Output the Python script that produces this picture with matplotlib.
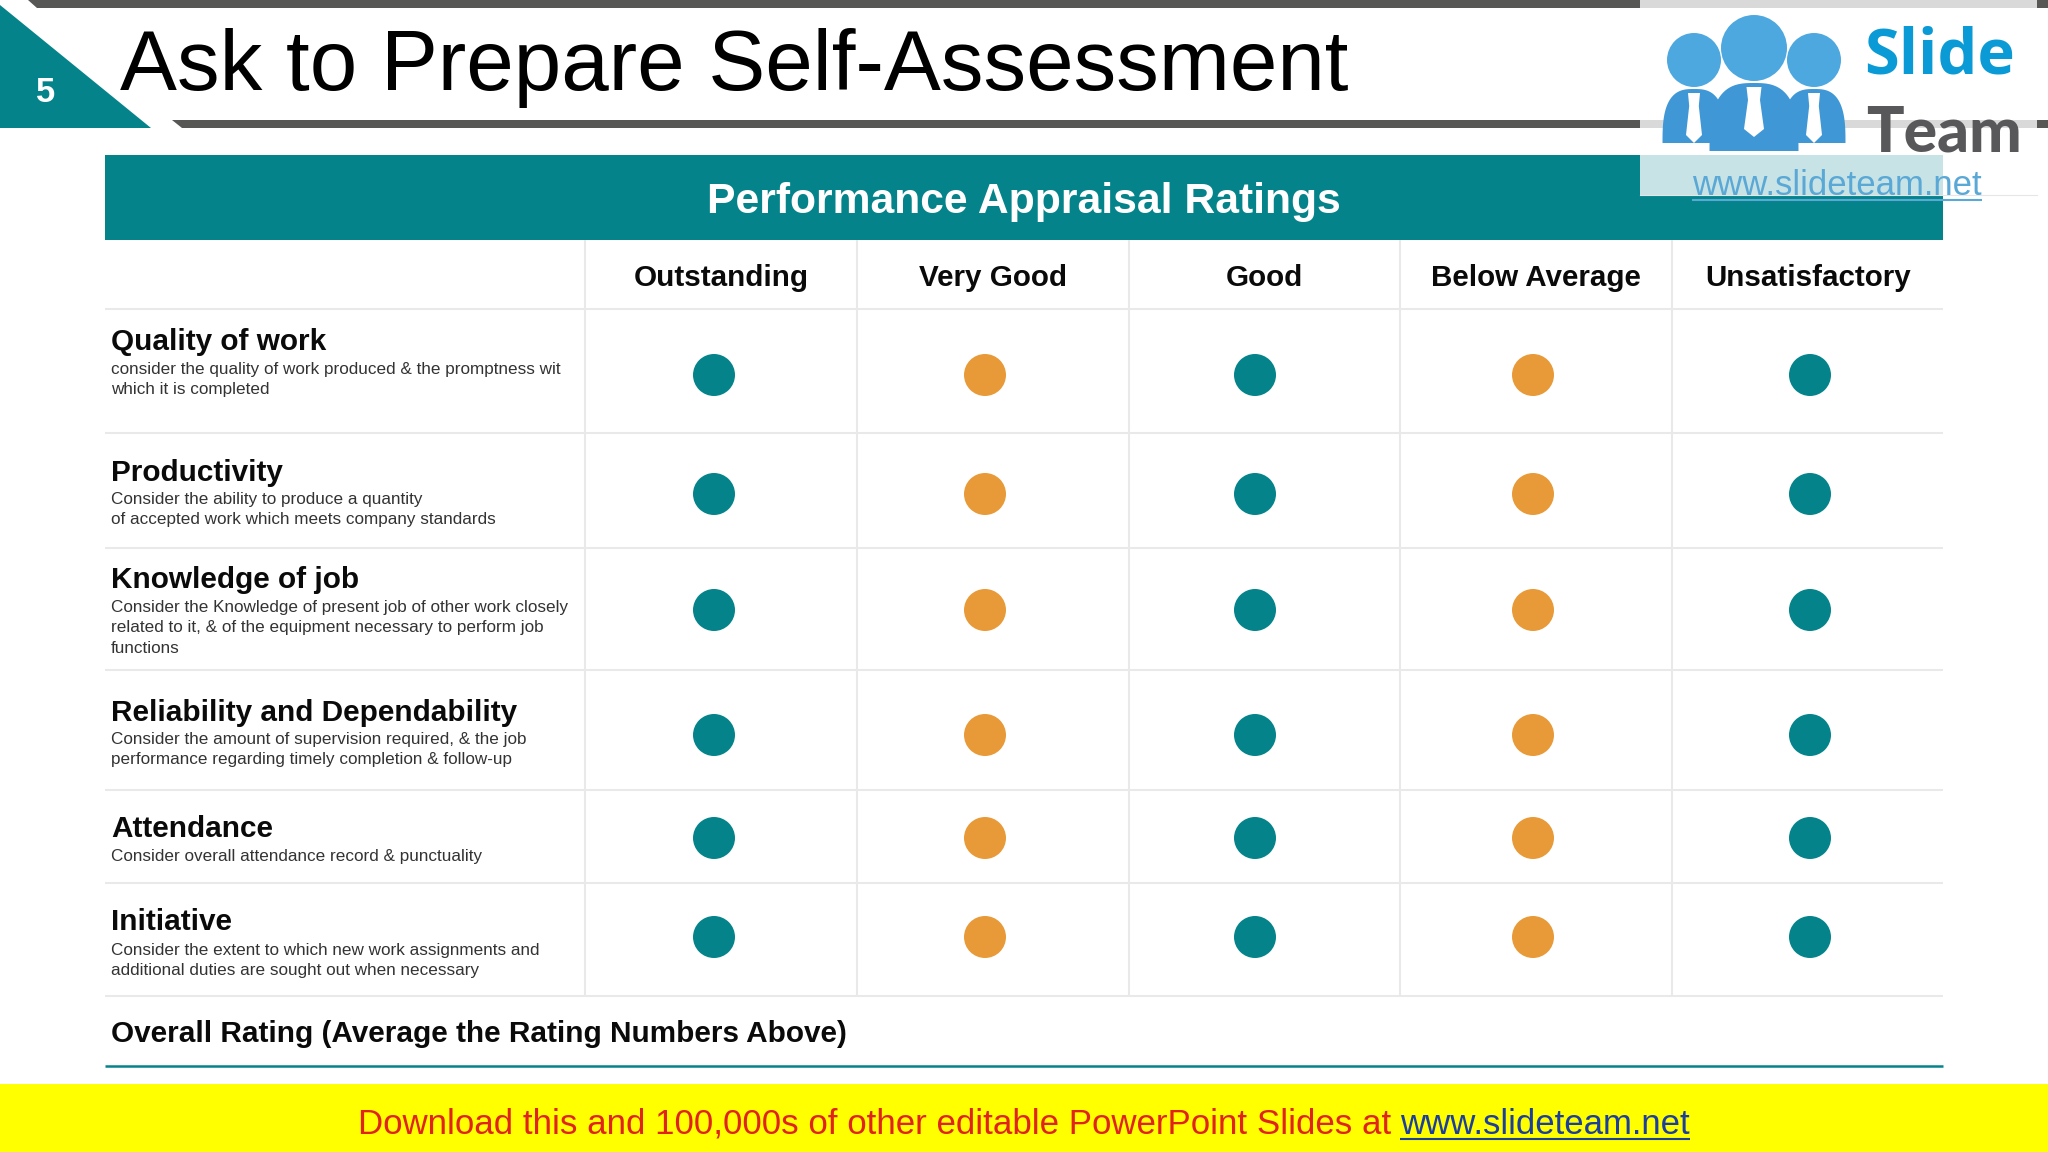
import matplotlib
matplotlib.use('Agg')
import matplotlib.pyplot as plt
import numpy as np
from matplotlib.patches import Polygon, Rectangle, Circle

plt.rcParams['font.family'] = ['Liberation Sans', 'DejaVu Sans']

TEAL = '#04848a'
ORANGE = '#e99a38'

# Table content
title = 'Ask to Prepare Self-Assessment'
table_title = 'Performance Appraisal Ratings'
ratings = ['Outstanding', 'Very Good', 'Good', 'Below Average', 'Unsatisfactory']
factors = ['Quality of work', 'Productivity', 'Knowledge of job',
           'Reliability and Dependability', 'Attendance', 'Initiative']
descriptions = [
    ['consider the quality of work produced & the promptness wit', 'which it is completed'],
    ['Consider the ability to produce a quantity', 'of accepted work which meets company standards'],
    ['Consider the Knowledge of present job of other work closely',
     'related to it, & of the equipment necessary to perform job', 'functions'],
    ['Consider the amount of supervision required, & the job',
     'performance regarding timely completion & follow-up'],
    ['Consider overall attendance record & punctuality'],
    ['Consider the extent to which new work assignments and',
     'additional duties are sought out when necessary'],
]
# 0 = teal dot, 1 = orange dot
dot_marks = [
    [0, 1, 0, 1, 0],
    [0, 1, 0, 1, 0],
    [0, 1, 0, 1, 0],
    [0, 1, 0, 1, 0],
    [0, 1, 0, 1, 0],
    [0, 1, 0, 1, 0],
]

# Layout, in pixels of the slide
col_lines = [585, 857, 1129, 1400, 1672]
row_lines = [309, 433, 548, 670, 790, 883, 996]
col_text = [721, 993, 1264, 1536, 1808]
col_dots = [714, 985, 1255, 1533, 1810]
row_dots = [375, 494, 610, 735, 838, 937]
title_base = [350, 481, 588, 721, 837, 930]
desc_base = [374, 504, 612, 744, 861, 955]

fig = plt.figure(figsize=(20.48, 11.52), dpi=100)
ax = fig.add_axes([0, 0, 1, 1])
ax.set_xlim(0, 2048)
ax.set_ylim(1152, 0)
ax.axis('off')

# Slide header
ax.add_patch(Polygon([(28, 0), (2048, 0), (2048, 8), (37, 8)], color='#575756', lw=0))
ax.add_patch(Polygon([(172, 120), (2048, 120), (2048, 128), (182, 128)], color='#575756', lw=0))
ax.add_patch(Polygon([(0, 5), (151, 128), (0, 128)], color=TEAL, lw=0))
ax.text(46, 102, '5', color='white', fontsize=25, fontweight='bold', ha='center', va='baseline')
ax.text(120, 90, title, color='black', fontsize=61.5, ha='left', va='baseline')

# Table
ax.add_patch(Rectangle((105, 155), 1838, 85, color=TEAL, lw=0))
ax.text(1024, 213, table_title, color='white', fontsize=30.7, fontweight='bold', ha='center', va='baseline')

for y in row_lines:
    ax.plot([105, 1943], [y, y], color='#e9e9ea', lw=1.5, solid_capstyle='butt')
for x in col_lines:
    ax.plot([x, x], [240, 996], color='#e9e9ea', lw=1.5, solid_capstyle='butt')

for x, label in zip(col_text, ratings):
    ax.text(x, 286, label, color='#0a0a0a', fontsize=21.3, fontweight='bold', ha='center', va='baseline')

for i, factor in enumerate(factors):
    ax.text(111, title_base[i], factor, color='#0a0a0a', fontsize=21.4, fontweight='bold', va='baseline')
    for j, line in enumerate(descriptions[i]):
        ax.text(111, desc_base[i] + j * 20.4, line, color='#333333', fontsize=12.3, va='baseline')
    for j, x in enumerate(col_dots):
        ax.add_patch(Circle((x, row_dots[i]), 21, color=ORANGE if dot_marks[i][j] else TEAL, lw=0))

ax.text(111, 1042, 'Overall Rating (Average the Rating Numbers Above)', color='#0a0a0a',
        fontsize=21.4, fontweight='bold', va='baseline')
ax.plot([105, 1943], [1066, 1066], color=TEAL, lw=1.8, solid_capstyle='butt')

# Logo box sits on top of everything in the corner
ax.add_patch(Rectangle((1640, 0), 397, 195, color='white', alpha=0.78, lw=0))
ax.plot([1640, 2037], [195, 195], color='#e6e6e6', lw=0.8)

def person(cx, head_y, head_r, body_w, body_top, body_bot, tie_w):
    # dome shaped body, fuller than a plain half ellipse
    t = np.linspace(0, np.pi, 60)
    bx = cx + body_w / 2 * np.sign(np.cos(t)) * np.abs(np.cos(t)) ** 0.7
    by = body_bot - (body_bot - body_top) * np.sin(t) ** 0.7
    ax.add_patch(Polygon(np.column_stack([bx, by]), color='#3f97d6', lw=0))
    ax.add_patch(Circle((cx, head_y), head_r, color='#4ea8e0', lw=0))
    w = tie_w / 2
    top = body_top + 4
    ax.add_patch(Polygon([(cx - w * 0.75, top), (cx + w * 0.75, top), (cx + w * 0.6, top + 13),
                          (cx + w, top + 42), (cx, top + 50), (cx - w, top + 42), (cx - w * 0.6, top + 13)],
                         color='white', lw=0))

person(1694, 60, 27, 63, 89, 143, 16)
person(1814, 60, 27, 63, 89, 143, 16)
person(1754, 48, 33, 89, 83, 151, 20)

ax.text(1864, 74, 'Slide', color='#0a9ad6', fontsize=45.5, fontweight='bold', family='Open Sans', va='baseline')
ax.text(1866, 151, 'Team', color='#58585a', fontsize=45, fontweight='black', family='Lato', va='baseline')
ax.text(1692, 195, 'www.slideteam.net', color='#5aa8d6', fontsize=25, va='baseline')
ax.plot([1692, 1982], [200, 200], color='#5aa8d6', lw=1.5, solid_capstyle='butt')

# Footer
ax.add_patch(Rectangle((0, 1084), 2048, 68, color='#ffff00', lw=0))
ax.text(358, 1134, 'Download this and 100,000s of other editable PowerPoint Slides at ',
        color='#e0231c', fontsize=25.1, va='baseline')
ax.text(1400, 1134, 'www.slideteam.net', color='#1c3f9e', fontsize=25, va='baseline')
ax.plot([1400, 1690], [1139, 1139], color='#1c3f9e', lw=1.5, solid_capstyle='butt')

fig.savefig('out.png', dpi=100)
